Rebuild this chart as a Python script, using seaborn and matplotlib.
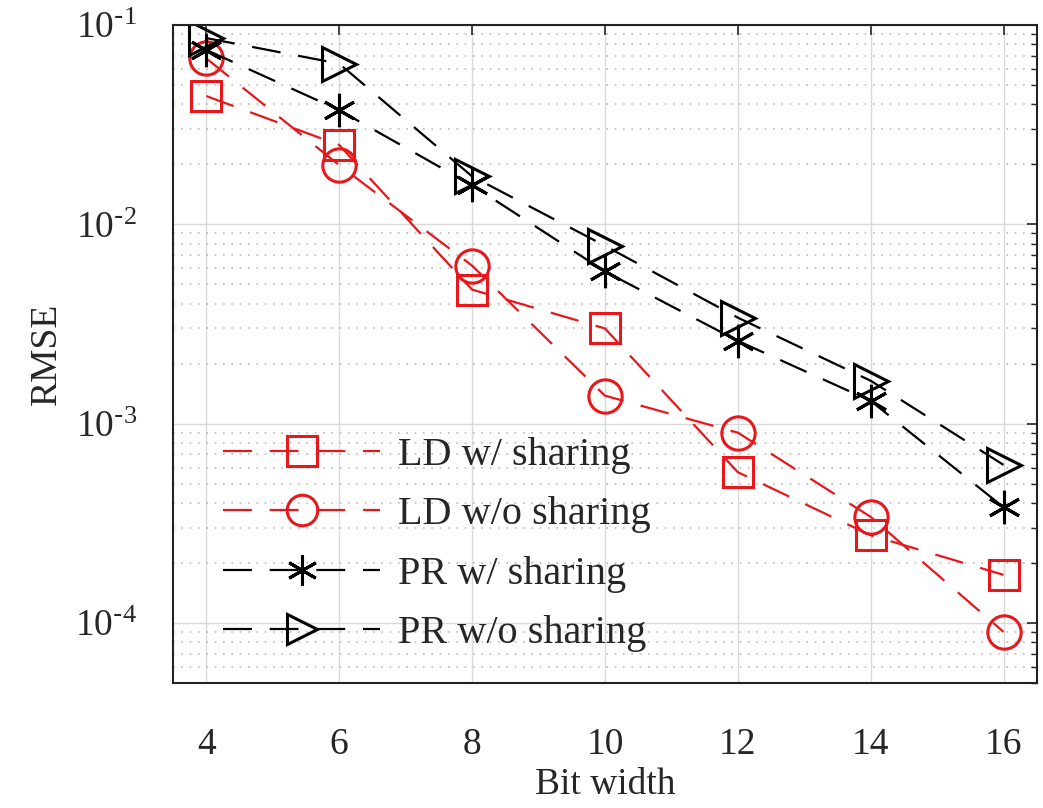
import numpy as np
import pandas as pd
import matplotlib
matplotlib.use("Agg")
import matplotlib.pyplot as plt
import seaborn as sns
from matplotlib.ticker import LogLocator, FuncFormatter, NullFormatter

# data
bits = [4, 6, 8, 10, 12, 14, 16]
ld_share = [0.044, 0.025, 0.0047, 0.0030, 5.7e-4, 2.75e-4, 1.74e-4]
ld_noshare = [0.068, 0.0198, 0.0062, 0.00138, 9.0e-4, 3.4e-4, 9.0e-5]
pr_share = [0.075, 0.0374, 0.0157, 0.0058, 0.0026, 0.0013, 3.8e-4]
pr_noshare = [0.086, 0.064, 0.0174, 0.0078, 0.0034, 0.00164, 6.2e-4]
names = ["LD w/ sharing", "LD w/o sharing", "PR w/ sharing", "PR w/o sharing"]

df = pd.concat([
    pd.DataFrame({"bits": bits, "rmse": vals, "method": name})
    for name, vals in zip(names, [ld_share, ld_noshare, pr_share, pr_noshare])
])

sns.set_style("white")
plt.rcParams['font.family'] = ['Liberation Serif', 'DejaVu Serif']
plt.rcParams['mathtext.default'] = 'regular'

fig = plt.figure(figsize=(10.43, 8.08), dpi=100)
ax = fig.add_axes([0.166, 0.155, 0.828, 0.814])

colors = {names[0]: "#e8171c", names[1]: "#e8171c", names[2]: "black", names[3]: "black"}
markers = {names[0]: "s", names[1]: "o", names[2]: (6, 2, 0), names[3]: ">"}
msizes = {names[0]: 21, names[1]: 24, names[2]: 24, names[3]: 24}

for name in names:
    sub = df[df["method"] == name]
    sns.lineplot(data=sub, x="bits", y="rmse", ax=ax, label=name,
                 color=colors[name], marker=markers[name],
                 linewidth=1.6, markersize=msizes[name], markerfacecolor="none",
                 markeredgecolor=colors[name], markeredgewidth=2.2,
                 dashes=(13, 8))

ax.set_yscale("log")
ax.set_xlim(3.5, 16.5)
ax.set_ylim(5e-5, 0.1)
ax.set_xticks(bits)


def sci(v, pos):
    e = int(round(np.log10(v)))
    s = "\\text{-}" + str(-e) if e < 0 else str(e)
    return "$10^{" + s + "}$"


ax.yaxis.set_major_locator(LogLocator(base=10, numticks=10))
ax.yaxis.set_major_formatter(FuncFormatter(sci))
ax.yaxis.set_minor_locator(LogLocator(base=10, subs=np.arange(2, 10), numticks=20))
ax.yaxis.set_minor_formatter(NullFormatter())

ax.grid(True, which="major", axis="both", color="#d9d9d9", linewidth=1.0)
ax.grid(True, which="minor", axis="y", color="#bdbdbd", linestyle=(0, (1, 4)), linewidth=1.2)
ax.set_axisbelow(True)

ax.tick_params(which="both", direction="in", top=True, right=True, labelsize=27)
ax.tick_params(axis="x", pad=32)
ax.tick_params(axis="y", pad=26)
ax.tick_params(which="major", length=7, width=1.2)
ax.tick_params(which="minor", length=4, width=1.0)
for s in ax.spines.values():
    s.set_linewidth(1.5)
    s.set_color("#222222")

ax.set_xlabel("Bit width", fontsize=27, labelpad=4)
ax.set_ylabel("RMSE", fontsize=27, labelpad=8)

leg = ax.legend(loc="lower left", bbox_to_anchor=(0.03, 0.01), frameon=False,
                fontsize=29, handlelength=3.9, handletextpad=0.45, labelspacing=0.55,
                borderaxespad=0.2)
for h in leg.legend_handles:
    h.set_markersize(22)

fig.savefig("out.png", dpi=100)
